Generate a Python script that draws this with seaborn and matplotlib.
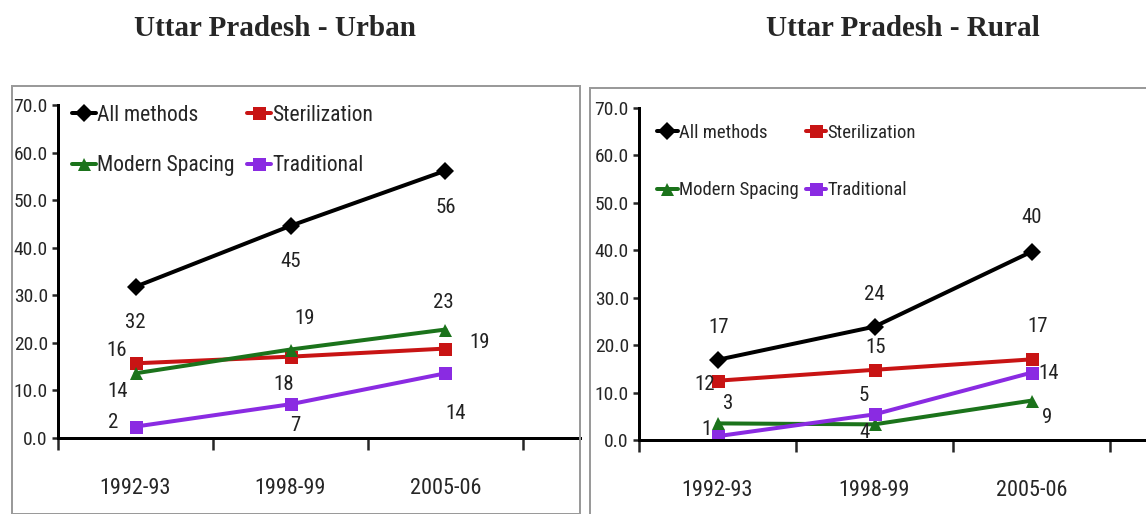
import matplotlib
matplotlib.use("Agg")
import matplotlib.pyplot as plt
from matplotlib import font_manager
from matplotlib.patches import Rectangle
from matplotlib.ticker import FixedLocator, FormatStrFormatter
import pandas as pd
import seaborn as sns

# data
years = ["1992-93", "1998-99", "2005-06"]
methods = ["All methods", "Sterilization", "Modern Spacing", "Traditional"]

urban_all = [31.8, 44.6, 56.2]
urban_ster = [15.7, 17.1, 18.8]
urban_modern = [13.6, 18.6, 22.8]
urban_trad = [2.4, 7.1, 13.6]

rural_all = [16.9, 23.9, 39.7]
rural_ster = [12.5, 14.8, 17.0]
rural_modern = [3.5, 3.3, 8.3]
rural_trad = [0.8, 5.4, 14.2]

# data labels as printed on the chart
urban_labels = [["32", "45", "56"], ["16", "18", "19"], ["14", "19", "23"], ["2", "7", "14"]]
rural_labels = [["17", "24", "40"], ["12", "15", "17"], ["3", "4", "9"], ["1", "5", "14"]]

# label offsets in pixels (dx, dy) from each point
urban_offsets = [[(0, -36), (0, -36), (0, -37)],
                 [(-19, 13), (-7, -28), (34, 6)],
                 [(-18, -18), (14, 31), (-2, 27)],
                 [(-22, 4), (5, -21), (10, -40)]]
rural_offsets = [[(1, 32), (0, 32), (0, 34)],
                 [(-13, -4), (1, 22), (6, 33)],
                 [(11, 20), (-10, -8), (16, -17)],
                 [(-11, 7), (-11, 19), (17, -1)]]

colors = {"All methods": "#000000", "Sterilization": "#C81414",
          "Modern Spacing": "#1B731B", "Traditional": "#8A2BE2"}
markers = {"All methods": "D", "Sterilization": "s",
           "Modern Spacing": "^", "Traditional": "s"}


def pick_font(names):
    for n in names:
        try:
            font_manager.findfont(n, fallback_to_default=False)
            return n
        except Exception:
            pass
    return "DejaVu Sans"


sns.set_style("white")
narrow = pick_font(["Liberation Sans Narrow", "Roboto Condensed", "Open Sans Condensed", "Liberation Sans"])
plt.rcParams["font.family"] = [narrow, "DejaVu Sans"]

DPI = 100
W, H = 1146, 514
fig = plt.figure(figsize=(W / DPI, H / DPI), dpi=DPI)


def px(v):
    return v * 72 / DPI


def make_df(series):
    rows = []
    for m, vals in zip(methods, series):
        for y, v in zip(years, vals):
            rows.append({"year": y, "method": m, "value": v})
    df = pd.DataFrame(rows)
    df["x"] = df["year"].map({y: i for i, y in enumerate(years)})
    return df


def panel(rect, series, labels, offsets, xmax, leg_anchor, leg_fs, leg_spacing, col_spacing):
    ax = fig.add_axes(rect)
    df = make_df(series)
    sns.lineplot(data=df, x="x", y="value", hue="method", style="method",
                 hue_order=methods, style_order=methods, palette=colors,
                 markers=markers, dashes=False, linewidth=px(4),
                 markersize=px(13), markeredgewidth=0, ax=ax)
    for i, m in enumerate(methods):
        for j in range(len(years)):
            ax.annotate(labels[i][j], (j, series[i][j]), xytext=offsets[i][j],
                        textcoords="offset pixels", ha="center", va="center",
                        fontsize=15, color="#222222")
    ax.set_xlim(-0.5, xmax)
    ax.set_ylim(0, 70)
    ax.set_yticks(range(0, 71, 10))
    ax.yaxis.set_major_formatter(FormatStrFormatter("%.1f"))
    ax.set_xticks(range(len(years)))
    ax.set_xticklabels(years)
    ax.xaxis.set_minor_locator(FixedLocator([-0.5, 0.5, 1.5, 2.5]))
    ax.tick_params(axis="x", which="major", length=0, pad=29, labelsize=16)
    ax.tick_params(axis="x", which="minor", length=px(12), width=px(2.5), direction="out", bottom=True)
    ax.tick_params(axis="y", length=px(6), width=px(2.5), direction="out", left=True, pad=3, labelsize=14)
    ax.set_xlabel("")
    ax.set_ylabel("")
    for s in ["top", "right"]:
        ax.spines[s].set_visible(False)
    for s in ["left", "bottom"]:
        ax.spines[s].set_color("black")
        ax.spines[s].set_linewidth(px(3))
    ax.patch.set_alpha(0)

    # legend filled row by row: All methods / Sterilization, Modern Spacing / Traditional
    leg = ax.get_legend()
    handles = leg.legend_handles
    texts = [t.get_text() for t in leg.get_texts()]
    leg.remove()
    order = [0, 2, 1, 3]
    ax.legend([handles[k] for k in order], [texts[k] for k in order],
              loc="upper left", bbox_to_anchor=leg_anchor, bbox_transform=fig.transFigure,
              ncol=2, frameon=False, fontsize=leg_fs,
              handlelength=1.1, handletextpad=0.05, labelspacing=leg_spacing,
              columnspacing=col_spacing, borderpad=0, borderaxespad=0)
    return ax


# panel frames
fig.patches.append(Rectangle((12 / W, 0), (580 - 12) / W, 1 - 86 / H, transform=fig.transFigure,
                             fill=False, edgecolor="#9a9a9a", linewidth=px(2), zorder=0))
fig.patches.append(Rectangle((590 / W, -0.01), (W + 5 - 590) / W, 1.01 - 88 / H, transform=fig.transFigure,
                             fill=False, edgecolor="#9a9a9a", linewidth=px(2), zorder=0))

panel([58 / W, 1 - 438 / H, (580 - 58) / W, (438 - 105) / H],
      [urban_all, urban_ster, urban_modern, urban_trad], urban_labels, urban_offsets,
      -0.5 + (580 - 58) / 155, (72 / W, 1 - 105 / H), 15.5, 1.35, 0.6)
panel([639 / W, 1 - 440 / H, (W - 639) / W, (440 - 108) / H],
      [rural_all, rural_ster, rural_modern, rural_trad], rural_labels, rural_offsets,
      -0.5 + (W - 639) / 157, (657 / W, 1 - 124 / H), 13.5, 2.1, 0.4)

serif = ["Liberation Serif", "DejaVu Serif"]
fig.text(275 / W, 1 - 28 / H, "Uttar Pradesh - Urban", ha="center", va="center",
         fontsize=21, fontweight="bold", family=serif)
fig.text(903 / W, 1 - 28 / H, "Uttar Pradesh - Rural", ha="center", va="center",
         fontsize=21, fontweight="bold", family=serif)

fig.savefig("out.png", dpi=DPI)
